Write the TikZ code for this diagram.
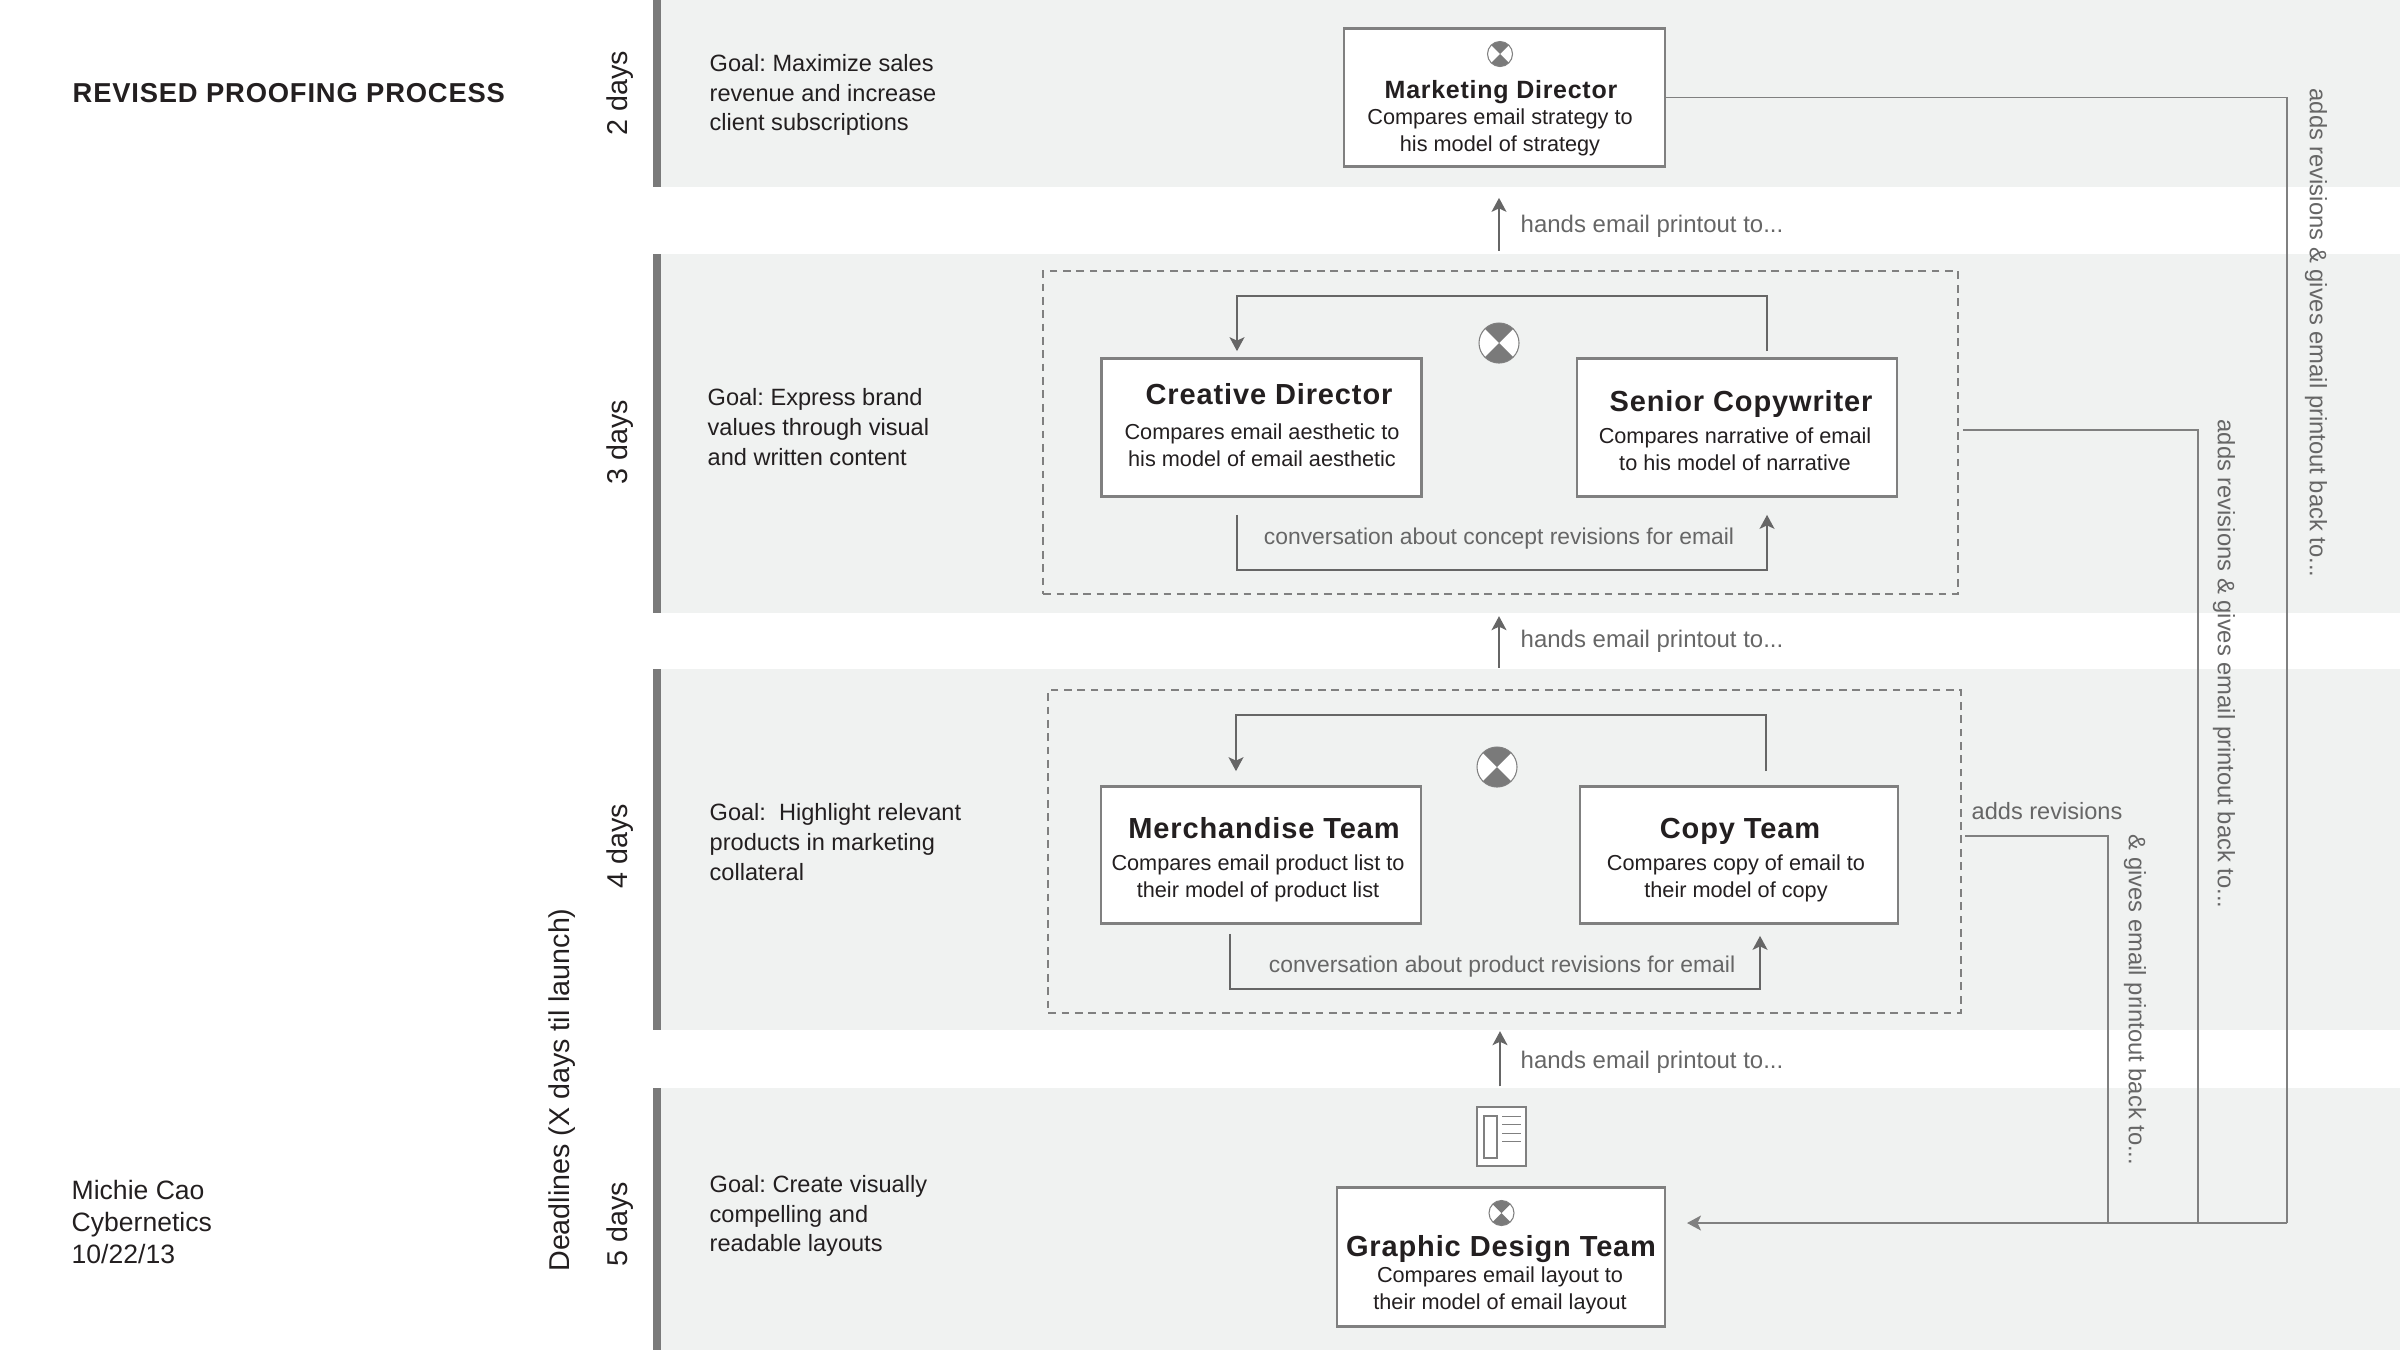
\documentclass[tikz,border=0pt]{standalone}
\usepackage{fontspec}
\usepackage{xcolor}
\setmainfont{Liberation Sans}
\newfontfamily\spacedfont[LetterSpace=3]{Liberation Sans}
\usetikzlibrary{arrows.meta, positioning}
\definecolor{bandgray}{HTML}{F0F2F1}
\definecolor{bargray}{HTML}{7A7A7A}
\definecolor{linegray}{HTML}{808080}
\definecolor{notegray}{HTML}{666666}
\definecolor{inkgray}{HTML}{231F20}

\begin{document}
\begin{tikzpicture}[
        x=0.01cm, y=-0.01cm,
        band/.style={fill=bandgray, draw=none},
        bar/.style={fill=bargray, draw=none},
        rolebox/.style={draw=linegray, line width=0.75pt, fill=white, inner sep=0pt},
        group/.style={draw=linegray, line width=0.6pt, dashed, dash pattern=on 2.2pt off 1.6pt, inner sep=0pt},
        roletitle/.style={text=inkgray, align=center, inner sep=0pt, text height=0.21cm, text depth=0.05cm, font=\spacedfont\bfseries\fontsize{8.25}{9}\selectfont},
        roletext/.style={text=inkgray, align=center, inner sep=0pt, font=\fontsize{6.17}{7.7}\selectfont},
        goal/.style={text=inkgray, align=left, anchor=west, inner sep=0pt, font=\frenchspacing\fontsize{6.7}{8.45}\selectfont},
        days/.style={text=inkgray, rotate=90, inner sep=0pt, font=\fontsize{8.15}{10}\selectfont},
        note/.style={text=notegray, inner sep=0pt, text height=0.17cm, text depth=0.05cm, font=\fontsize{6.82}{8}\selectfont},
        backnote/.style={text=notegray, rotate=-90, inner sep=0pt, font=\fontsize{6.76}{8}\selectfont},
        link/.style={draw=linegray, line width=0.5pt},
        flow/.style={draw=notegray, line width=0.42pt, -{Stealth[length=1.4mm, width=1.5mm, inset=0.35mm]}},
        clock/.style={circle, draw=linegray, line width=0.3pt, fill=white, inner sep=0pt, minimum size=#1, path picture={
            \fill[bargray] (path picture bounding box.north west) -- (path picture bounding box.north east)
                -- (path picture bounding box.south west) -- (path picture bounding box.south east) -- cycle;}}
    ]
    \useasboundingbox (0,0) rectangle (2400,1350);

    % bands
    \fill[band] (661,0) rectangle (2400,187);
    \fill[band] (661,254) rectangle (2400,613);
    \fill[band] (661,669) rectangle (2400,1030);
    \fill[band] (661,1088) rectangle (2400,1350);
    \fill[bar] (653,0) rectangle (661,187);
    \fill[bar] (653,254) rectangle (661,613);
    \fill[bar] (653,669) rectangle (661,1030);
    \fill[bar] (653,1088) rectangle (661,1350);

    % left column
    \node[inner sep=0pt, anchor=west, text=inkgray, font=\spacedfont\bfseries\fontsize{7.78}{10}\selectfont] (heading) at (72,93) {REVISED PROOFING PROCESS};
    \node[goal, font=\fontsize{7.55}{9.2}\selectfont] (byline) at (71,1222) {Michie Cao\\Cybernetics\\10/22/13};
    \node[days] (deadlines) at (562,1090) {Deadlines (X days til launch)};
    \node[days] (daysa) at (620,93) {2 days};
    \node[days] (daysb) at (620,442) {3 days};
    \node[days] (daysc) at (620,846) {4 days};
    \node[days] (daysd) at (620,1224) {5 days};
    \node[goal] (goala) at (709,95) {Goal: Maximize sales\\revenue and increase\\client subscriptions};
    \node[goal] (goalb) at (707,427) {Goal: Express brand\\values through visual\\and written content};
    \node[goal] (goalc) at (709,842) {Goal:\ \ Highlight relevant\\products in marketing\\collateral};
    \node[goal] (goald) at (709,1216) {Goal: Create visually\\compelling and\\readable layouts};

    % dashed groups
    \node[group, minimum width=9.14cm, minimum height=3.23cm] (conceptfrm) at (1500.5,432.5) {};
    \node[group, minimum width=9.12cm, minimum height=3.23cm] (productfrm) at (1504.5,851.5) {};

    % role boxes
    \node[rolebox, minimum width=3.21cm, minimum height=1.38cm] (marketing) at (1504.5,97.5) {};
    \node[rolebox, minimum width=3.20cm, minimum height=1.38cm] (creative) at (1261.5,427.5) {};
    \node[rolebox, minimum width=3.20cm, minimum height=1.38cm] (senior) at (1737,427.5) {};
    \node[rolebox, minimum width=3.20cm, minimum height=1.37cm] (merch) at (1261,855) {};
    \node[rolebox, minimum width=3.18cm, minimum height=1.37cm] (copyteam) at (1739,855) {};
    \node[rolebox, minimum width=3.28cm, minimum height=1.39cm] (graphic) at (1501,1257) {};

    \node[roletitle, font=\spacedfont\bfseries\fontsize{7.1}{9}\selectfont] (marketingtitle) at (1501,90) {Marketing Director};
    \node[roletext] (marketingtext) at (1500,132) {Compares email strategy to\\his model of strategy};
    \node[roletitle] (creativetitle) at (1269,396) {Creative Director};
    \node[roletext] (creativetext) at (1262,445.5) {Compares email aesthetic to\\his model of email aesthetic};
    \node[roletitle] (seniortitle) at (1741,403) {Senior Copywriter};
    \node[roletext] (seniortext) at (1735,449.5) {Compares narrative of email\\to his model of narrative};
    \node[roletitle] (merchtitle) at (1264,830) {Merchandise Team};
    \node[roletext] (merchtext) at (1258,878) {Compares email product list to\\their model of product list};
    \node[roletitle] (copytitle) at (1740,830) {Copy Team};
    \node[roletext] (copytext) at (1736,878) {Compares copy of email to\\their model of copy};
    \node[roletitle] (graphictitle) at (1501,1248) {Graphic Design Team};
    \node[roletext] (graphictext) at (1500,1290.5) {Compares email layout to\\their model of email layout};

    % clocks
    \node[clock=0.25cm] (marketingclock) at (1500,54) {};
    \node[clock=0.40cm] (conceptclock) at (1499,343) {};
    \node[clock=0.40cm] (productclock) at (1497,767) {};
    \node[clock=0.25cm] (graphicclock) at (1501.5,1213) {};

    % printout icon
    \node[draw=linegray, line width=0.4pt, fill=white, minimum width=0.49cm, minimum height=0.59cm, inner sep=0pt] (printout) at (1501.5,1136.5) {};
    \draw[linegray, line width=0.4pt] (1484,1116) rectangle (1497,1158);
    \foreach \y in {1116,1124,1133,1141} {
        \draw[linegray, line width=0.3pt] (1502,\y) -- (1521,\y);
    }

    % handing on
    \draw[flow] ([yshift=0.19cm]conceptfrm.north -| conceptclock) -- ([yshift=-0.30cm]marketing.south -| conceptclock);
    \draw[flow] ([yshift=0.21cm]productfrm.north -| conceptclock) -- ([yshift=-0.21cm]conceptfrm.south -| conceptclock);
    \draw[flow] ([yshift=0.20cm]printout.north -| graphictext) -- ([yshift=-0.17cm]productfrm.south -| graphictext);
    \node[note, anchor=west] (handsa) at (1520,226.5) {hands email printout to...};
    \node[note, anchor=west] (handsb) at (1520,641.5) {hands email printout to...};
    \node[note, anchor=west] (handsc) at (1520,1062.5) {hands email printout to...};

    % conversations
    \draw[flow] ([shift={(0.30cm,0.06cm)}]senior.north) -- ++(0,-55) -| ([shift={(-0.245cm,0.06cm)}]creative.north);
    \draw[flow] ([shift={(-0.245cm,-0.17cm)}]creative.south) -- ++(0,55) -| ([shift={(0.30cm,-0.17cm)}]senior.south);
    \node[note, font=\fontsize{6.5}{8}\selectfont] (conceptnote) at (1499,538) {conversation about concept revisions for email};
    \draw[flow] ([shift={(0.27cm,0.14cm)}]copyteam.north) -- ++(0,-56) -| ([shift={(-0.25cm,0.14cm)}]merch.north);
    \draw[flow] ([shift={(-0.31cm,-0.09cm)}]merch.south) -- ++(0,55) -| ([shift={(0.21cm,-0.11cm)}]copyteam.south);
    \node[note, font=\fontsize{6.5}{8}\selectfont] (productnote) at (1502,966) {conversation about product revisions for email};

    % revisions going back
    \coordinate (backtip) at (1687,1223);
    \coordinate (rejoina) at (2287,1223);
    \coordinate (rejoinb) at (2198,1223);
    \coordinate (rejoinc) at (2108,1223);
    \draw[link] (marketing.east) -| (rejoina);
    \draw[link] ([shift={(0.04cm,0.025cm)}]conceptfrm.east) -| (rejoinb);
    \draw[link] ([shift={(0.03cm,0.155cm)}]productfrm.east) -| (rejoinc);
    \draw[flow, draw=linegray] (rejoina) -- (backtip);
    \node[backnote] (backa) at (2316,333) {adds revisions \& gives email printout back to...};
    \node[backnote] (backb) at (2224,664) {adds revisions \& gives email printout back to...};
    \node[note, anchor=west, font=\fontsize{6.7}{8}\selectfont] (backcstart) at (1971,813.5) {adds revisions};
    \node[backnote] (backc) at (2135,1000) {\& gives email printout back to...};
\end{tikzpicture}
\end{document}
